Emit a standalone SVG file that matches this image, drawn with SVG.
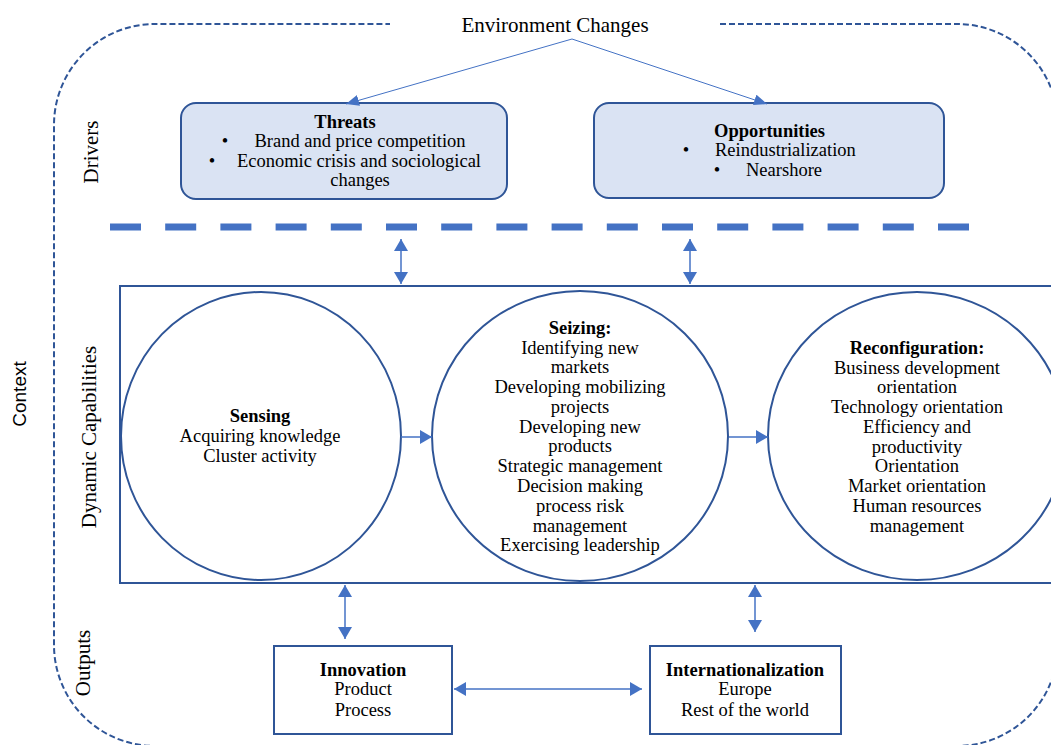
<svg xmlns="http://www.w3.org/2000/svg" width="1051" height="745" viewBox="0 0 1051 745">
<style>
.t{font-family:"Liberation Serif","Times New Roman",serif;font-size:18.5px;fill:#000;text-anchor:middle}
.b{font-weight:bold}
.l{text-anchor:start}
.side{font-family:"Liberation Serif","Times New Roman",serif;font-size:21px;fill:#000;text-anchor:middle}
.ctx{font-family:"Liberation Sans",Arial,sans-serif;font-size:19px;fill:#000;text-anchor:middle}
.drv{fill:#DAE3F3;stroke:#2F5597;stroke-width:2}
.box{fill:#fff;stroke:#2F5597;stroke-width:2}
.circ{fill:#fff;stroke:#2F5597;stroke-width:2}
.con{fill:none;stroke:#4472C4;stroke-width:1.5}
.thin{fill:none;stroke:#4472C4;stroke-width:1}
</style>
<defs>
<marker id="ah" markerUnits="userSpaceOnUse" markerWidth="12" markerHeight="14" refX="12" refY="7" orient="auto-start-reverse">
<path d="M0,0 L12,7 L0,14 z" fill="#4472C4"/>
</marker>
<marker id="ahs" markerUnits="userSpaceOnUse" markerWidth="13" markerHeight="11" refX="13" refY="5.5" orient="auto">
<path d="M0,0 L13,5.5 L0,11 z" fill="#4472C4"/>
</marker>
</defs>

<g id="context">
<path d="M 720 24 H 957 A 101 101 0 0 1 1058 125 V 645 A 101 101 0 0 1 957 746 H 155 A 101 101 0 0 1 54 645 V 125 A 101 101 0 0 1 155 24 H 390" fill="none" stroke="#2F5597" stroke-width="2" stroke-dasharray="6 3"/>
<text class="ctx" transform="translate(26,394) rotate(-90)">Context</text>
</g>

<g id="labels">
<text class="side" transform="translate(98,152) rotate(-90)">Drivers</text>
<text class="side" transform="translate(96,437) rotate(-90)">Dynamic Capabilities</text>
<text class="side" transform="translate(90,663) rotate(-90)">Outputs</text>
</g>

<g id="environment">
<text class="t" x="555" y="32" style="font-size:21px">Environment Changes</text>
</g>

<g id="threats">
<rect class="drv" x="181" y="103" width="326" height="96" rx="15"/>
<text class="t b" x="345" y="128">Threats</text>
<text class="t" x="225" y="147">•</text>
<text class="t" x="360" y="147">Brand and price competition</text>
<text class="t" x="212" y="167">•</text>
<text class="t" x="359" y="167">Economic crisis and sociological</text>
<text class="t" x="360" y="186">changes</text>
</g>

<g id="opportunities">
<rect class="drv" x="594" y="103" width="350" height="95" rx="15"/>
<text class="t b l" x="714" y="137">Opportunities</text>
<text class="t" x="686" y="156">•</text>
<text class="t l" x="715" y="156">Reindustrialization</text>
<text class="t" x="717" y="176">•</text>
<text class="t l" x="746" y="176">Nearshore</text>
</g>

<g id="boundary">
<line x1="110" y1="227" x2="975" y2="227" stroke="#4472C4" stroke-width="7" stroke-dasharray="31 24.2"/>
</g>

<g id="dynamic-capabilities">
<path d="M 1060 286 H 120 V 583 H 1060" fill="none" stroke="#2F5597" stroke-width="2"/>
</g>

<g id="sensing">
<ellipse class="circ" cx="261" cy="436" rx="140" ry="144"/>
<text class="t b" x="260" y="422">Sensing</text>
<text class="t" x="260" y="442">Acquiring knowledge</text>
<text class="t" x="260" y="462">Cluster activity</text>
</g>

<g id="seizing">
<ellipse class="circ" cx="580" cy="436" rx="148" ry="145"/>
<text class="t b" x="580" y="334">Seizing:</text>
<text class="t" x="580" y="354">Identifying new</text>
<text class="t" x="580" y="373">markets</text>
<text class="t" x="580" y="393">Developing mobilizing</text>
<text class="t" x="580" y="413">projects</text>
<text class="t" x="580" y="433">Developing new</text>
<text class="t" x="580" y="452">products</text>
<text class="t" x="580" y="472">Strategic management</text>
<text class="t" x="580" y="492">Decision making</text>
<text class="t" x="580" y="512">process risk</text>
<text class="t" x="580" y="532">management</text>
<text class="t" x="580" y="551">Exercising leadership</text>
</g>

<g id="reconfiguration">
<ellipse class="circ" cx="917" cy="436" rx="149" ry="144"/>
<text class="t b" x="917" y="354">Reconfiguration:</text>
<text class="t" x="917" y="374">Business development</text>
<text class="t" x="917" y="393">orientation</text>
<text class="t" x="917" y="413">Technology orientation</text>
<text class="t" x="917" y="433">Efficiency and</text>
<text class="t" x="917" y="453">productivity</text>
<text class="t" x="917" y="472">Orientation</text>
<text class="t" x="917" y="492">Market orientation</text>
<text class="t" x="917" y="512">Human resources</text>
<text class="t" x="917" y="532">management</text>
</g>

<g id="innovation">
<rect class="box" x="274" y="646" width="178" height="88"/>
<text class="t b" x="363" y="676">Innovation</text>
<text class="t" x="363" y="695">Product</text>
<text class="t" x="363" y="716">Process</text>
</g>

<g id="internationalization">
<rect class="box" x="650" y="646" width="191" height="88"/>
<text class="t b" x="745" y="676">Internationalization</text>
<text class="t" x="745" y="695">Europe</text>
<text class="t" x="745" y="716">Rest of the world</text>
</g>

<g id="connectors">
<line class="thin" x1="572" y1="39" x2="346" y2="104" marker-end="url(#ahs)"/>
<line class="thin" x1="572" y1="39" x2="767" y2="104" marker-end="url(#ahs)"/>
<line class="con" x1="401" y1="239" x2="401" y2="284" marker-start="url(#ah)" marker-end="url(#ah)"/>
<line class="con" x1="690" y1="239" x2="690" y2="284" marker-start="url(#ah)" marker-end="url(#ah)"/>
<line class="con" x1="401" y1="437" x2="432" y2="437" marker-end="url(#ah)"/>
<line class="con" x1="729" y1="437" x2="768" y2="437" marker-end="url(#ah)"/>
<line class="con" x1="345" y1="585" x2="345" y2="639" marker-start="url(#ah)" marker-end="url(#ah)"/>
<line class="con" x1="755" y1="585" x2="755" y2="632" marker-start="url(#ah)" marker-end="url(#ah)"/>
<line class="con" x1="454" y1="689" x2="642" y2="689" marker-start="url(#ah)" marker-end="url(#ah)"/>
</g>
</svg>
